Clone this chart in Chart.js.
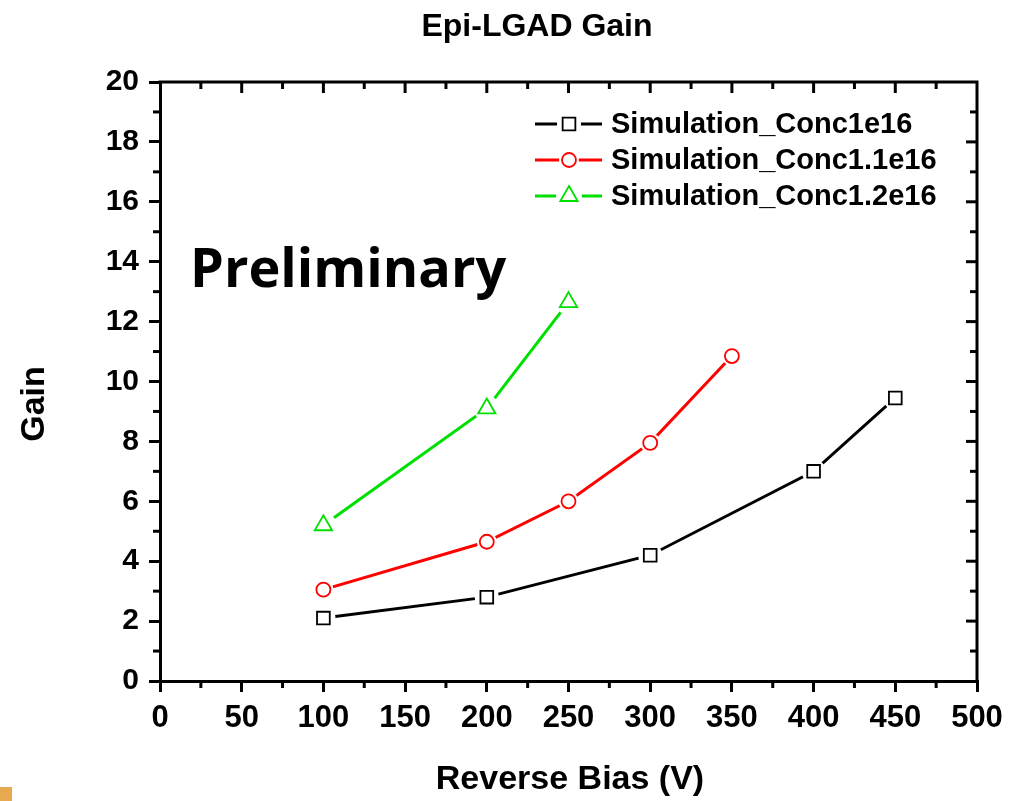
<!DOCTYPE html>
<html>
<head>
<meta charset="utf-8">
<script src="https://cdn.jsdelivr.net/npm/chart.js@4/dist/chart.umd.min.js"></script>
<style>
  html, body { margin: 0; padding: 0; background: #fff; }
  #wrap { position: relative; width: 1009px; height: 801px; }
  #corner { position: absolute; left: 0; top: 787px; width: 12px; height: 14px; background: #e8a850; }
</style>
</head>
<body>
<div id="wrap">
  <canvas id="gainChart" width="1009" height="801"></canvas>
  <div id="corner"></div>
</div>
<script>
// data
const biasConc1 = [100, 200, 300, 400, 450];
const gainConc1 = [2.1, 2.8, 4.2, 7.0, 9.45];
const biasConc11 = [100, 200, 250, 300, 350];
const gainConc11 = [3.05, 4.65, 6.0, 7.95, 10.85];
const biasConc12 = [100, 200, 250];
const gainConc12 = [5.2, 9.1, 12.65];
const seriesNames = ['Simulation_Conc1e16', 'Simulation_Conc1.1e16', 'Simulation_Conc1.2e16'];
const xTicks = [0, 50, 100, 150, 200, 250, 300, 350, 400, 450, 500];
const yTicks = [0, 2, 4, 6, 8, 10, 12, 14, 16, 18, 20];

const pts = (xs, ys) => xs.map((x, i) => ({ x: x, y: ys[i] }));
const axisFont = '"Liberation Sans", Arial, sans-serif';

// halo behind markers so lines stop short of them (Origin look)
function drawHaloPoint(ctx, ds, x, y) {
    ctx.save();
    ctx.fillStyle = '#fff';
    ctx.beginPath();
    ctx.arc(x, y, ds.pointRadius + 3, 0, Math.PI * 2);
    ctx.fill();
    ctx.restore();
}

const framePlugin = {
    id: 'frame',
    afterDatasetsDraw(chart) {
        const ctx = chart.ctx;
        // redraw markers with white halo
        chart.data.datasets.forEach((ds, i) => {
            const meta = chart.getDatasetMeta(i);
            meta.data.forEach(pt => drawHaloPoint(ctx, ds, pt.x, pt.y));
            meta.data.forEach(pt => pt.draw(ctx));
        });
    },
    afterDraw(chart) {
        const ctx = chart.ctx;
        const a = chart.chartArea;
        const xs = chart.scales.x, ys = chart.scales.y;
        ctx.save();
        ctx.strokeStyle = '#000';
        ctx.lineWidth = 3;
        ctx.lineCap = 'butt';
        // top and right frame lines
        ctx.beginPath();
        ctx.moveTo(a.left - 1.5, a.top);
        ctx.lineTo(a.right, a.top);
        ctx.lineTo(a.right, a.bottom + 1.5);
        ctx.stroke();

        // x ticks: minor outward on bottom, major+minor inward on top
        for (let v = 0; v <= 500; v += 25) {
            const px = xs.getPixelForValue(v);
            const major = v % 50 === 0;
            if (!major) {
                ctx.beginPath();
                ctx.moveTo(px, a.bottom);
                ctx.lineTo(px, a.bottom + 7);
                ctx.stroke();
            }
            if (v > 0 && v < 500) {
                ctx.beginPath();
                ctx.moveTo(px, a.top);
                ctx.lineTo(px, a.top + (major ? 11 : 7));
                ctx.stroke();
            }
        }
        // y ticks
        for (let v = 0; v <= 20; v += 1) {
            const py = ys.getPixelForValue(v);
            const major = v % 2 === 0;
            if (!major) {
                ctx.beginPath();
                ctx.moveTo(a.left, py);
                ctx.lineTo(a.left - 7, py);
                ctx.stroke();
            }
            if (v > 0 && v < 20) {
                ctx.beginPath();
                ctx.moveTo(a.right, py);
                ctx.lineTo(a.right - (major ? 11 : 7), py);
                ctx.stroke();
            }
        }

        // titles
        ctx.fillStyle = '#000';
        ctx.textAlign = 'center';
        ctx.textBaseline = 'middle';
        ctx.font = 'bold 32px ' + axisFont;
        ctx.fillText('Epi-LGAD Gain', 537, 27);
        ctx.font = 'bold 34px ' + axisFont;
        ctx.fillText('Reverse Bias (V)', 570, 780);
        ctx.save();
        ctx.translate(35, 404);
        ctx.rotate(-Math.PI / 2);
        ctx.fillText('Gain', 0, 0);
        ctx.restore();

        // watermark
        ctx.textAlign = 'left';
        ctx.textBaseline = 'alphabetic';
        ctx.font = 'bold 54px "Open Sans", sans-serif';
        ctx.fillText('Preliminary', 190, 287);

        // legend
        const rows = [124, 160, 196];
        chart.data.datasets.forEach((ds, i) => {
            const y = rows[i];
            ctx.strokeStyle = ds.borderColor;
            ctx.lineWidth = 3;
            ctx.beginPath();
            ctx.moveTo(535, y);
            ctx.lineTo(602, y);
            ctx.stroke();
            drawHaloPoint(ctx, ds, 569, y);
            ctx.fillStyle = '#fff';
            ctx.strokeStyle = ds.borderColor;
            ctx.lineWidth = ds.pointBorderWidth;
            Chart.helpers.drawPoint(ctx, {
                pointStyle: ds.pointStyle, radius: ds.pointRadius,
                rotation: 0, borderWidth: ds.pointBorderWidth
            }, 569, y);
            ctx.fillStyle = '#000';
            ctx.textBaseline = 'middle';
            ctx.font = 'bold 29px ' + axisFont;
            ctx.fillText(ds.label, 611, y + 1);
        });
        ctx.restore();
    }
};

function series(label, data, color, style, radius) {
    return {
        label: label,
        data: data,
        borderColor: color,
        borderWidth: 3,
        pointStyle: style,
        pointRadius: radius,
        pointHoverRadius: radius,
        pointBorderColor: color,
        pointBackgroundColor: '#fff',
        pointBorderWidth: 1.8,
        tension: 0,
        fill: false
    };
}

new Chart(document.getElementById('gainChart'), {
    type: 'line',
    data: {
        datasets: [
            series(seriesNames[0], pts(biasConc1, gainConc1), '#000000', 'rect', 9),
            series(seriesNames[1], pts(biasConc11, gainConc11), '#ff0000', 'circle', 7),
            series(seriesNames[2], pts(biasConc12, gainConc12), '#00e000', 'triangle', 10)
        ]
    },
    options: {
        responsive: false,
        animation: false,
        layout: { padding: { top: 82, right: 32, left: 0, bottom: 0 } },
        plugins: { legend: { display: false }, tooltip: { enabled: false } },
        scales: {
            x: {
                type: 'linear',
                min: 0, max: 500,
                afterFit: s => { s.height = 120; s.paddingRight = 0; s.paddingLeft = 0; },
                afterBuildTicks: s => { s.ticks = xTicks.map(v => ({ value: v })); },
                grid: { display: true, drawOnChartArea: false, drawTicks: true, tickLength: 11, lineWidth: 3, color: '#000' },
                border: { display: true, width: 3, color: '#000' },
                ticks: { color: '#000', padding: 8, maxRotation: 0, font: { family: axisFont, size: 31, weight: 'bold' } }
            },
            y: {
                type: 'linear',
                min: 0, max: 20,
                afterFit: s => { s.width = 160; },
                afterBuildTicks: s => { s.ticks = yTicks.map(v => ({ value: v })); },
                grid: { display: true, drawOnChartArea: false, drawTicks: true, tickLength: 11, lineWidth: 3, color: '#000' },
                border: { display: true, width: 3, color: '#000' },
                ticks: { color: '#000', padding: 10, font: { family: axisFont, size: 30, weight: 'bold' } }
            }
        }
    },
    plugins: [framePlugin]
});
</script>
</body>
</html>
